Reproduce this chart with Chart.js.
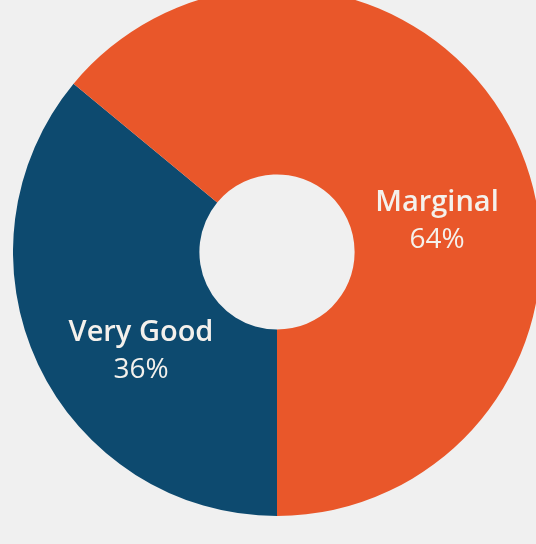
<!DOCTYPE html>
<html>
<head>
<meta charset="utf-8">
<script src="https://cdn.jsdelivr.net/npm/chart.js@4"></script>
<style>
  html, body { margin: 0; padding: 0; background: #f0f0f0; overflow: hidden; width: 536px; height: 544px; }
  #wrap { position: absolute; left: 13px; top: -12px; width: 528px; height: 528px; }
</style>
</head>
<body>
<div id="wrap"><canvas id="myChart"></canvas></div>
<script>
// chart data
const labels = ['Very Good', 'Marginal'];
const values = [36, 64];
const colors = ['#0d4a6f', '#e9572a'];

// label placement relative to center (picked by eye)
const labelOffsets = [[-136, 81], [160, -49]];

const sliceLabels = {
    id: 'sliceLabels',
    afterDatasetsDraw(chart) {
        const ctx = chart.ctx;
        const arc = chart.getDatasetMeta(0).data[0];
        const cx = arc.x, cy = arc.y;
        ctx.save();
        ctx.textAlign = 'center';
        ctx.textBaseline = 'middle';
        ctx.fillStyle = '#f4f1ec';
        for (let i = 0; i < labels.length; i++) {
            const x = cx + labelOffsets[i][0];
            const y = cy + labelOffsets[i][1];
            ctx.font = '600 29px "Open Sans"';
            ctx.fillText(labels[i], x, y);
            ctx.font = '28px "Open Sans"';
            ctx.fillText(values[i] + '%', x, y + 37);
        }
        ctx.restore();
    }
};

const myChart = new Chart(document.getElementById('myChart'), {
    type: 'doughnut',
    data: {
        labels: labels,
        datasets: [{
            data: values,
            backgroundColor: colors,
            borderWidth: 0
        }]
    },
    options: {
        animation: false,
        responsive: true,
        maintainAspectRatio: false,
        rotation: 180,
        cutout: '29.4%',
        layout: { padding: 0 },
        plugins: {
            legend: { display: false },
            tooltip: { enabled: false }
        }
    },
    plugins: [sliceLabels]
});
</script>
</body>
</html>
